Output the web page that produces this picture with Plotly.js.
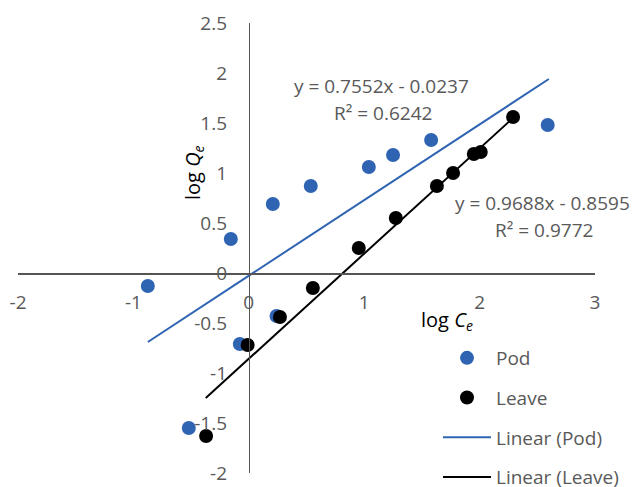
<!DOCTYPE html>
<html>
<head>
<meta charset="utf-8">
<script src="https://cdn.plot.ly/plotly-3.0.1.min.js"></script>
<style>html,body{margin:0;padding:0;background:#fff;}#chart{width:634px;height:487px;}</style>
</head>
<body>
<div id="chart"></div>
<script>
// Pod series (log Ce, log Qe)
var podX = [-0.875, -0.52, -0.156, -0.078, 0.208, 0.24, 0.537, 1.04, 1.25, 1.58, 2.59];
var podY = [-0.13, -1.55, 0.34, -0.71, 0.69, -0.43, 0.87, 1.06, 1.18, 1.33, 1.48];
// Leave series
var leaveX = [-0.37, -0.01, 0.27, 0.555, 0.953, 1.274, 1.63, 1.77, 1.95, 2.01, 2.29];
var leaveY = [-1.63, -0.72, -0.44, -0.15, 0.25, 0.55, 0.87, 1.0, 1.19, 1.21, 1.56];
// Trend line endpoints as drawn
var podTrendX = [-0.875, 2.6];
var podTrendY = [-0.69, 1.94];
var leaveTrendX = [-0.373, 2.28];
var leaveTrendY = [-1.25, 1.54];
// Tick labels
var xTickVals = [-2, -1, 0, 1, 2, 3];
var xTickText = ['-2', '-1', '0', '1', '2', '3'];
var yTickVals = [-2, -1.5, -1, -0.5, 0, 0.5, 1, 1.5, 2, 2.5];
var yTickText = ['-2', '-1.5', '-1', '-0.5', '0', '0.5', '1', '1.5', '2', '2.5'];
// Equation texts
var podEq = ['y = 0.7552x - 0.0237', 'R² = 0.6242'];
var leaveEq = ['y = 0.9688x - 0.8595', 'R² = 0.9772'];

var BLUE = '#2F64B3';
var GREY = '#595959';
var FONT = 'Open Sans';

var traces = [
  {x: podX, y: podY, type: 'scatter', mode: 'markers', name: 'Pod', legendgroup: 'a',
   marker: {color: BLUE, size: 14}},
  {x: leaveX, y: leaveY, type: 'scatter', mode: 'markers', name: 'Leave', legendgroup: 'b',
   marker: {color: '#000000', size: 14}},
  {x: podTrendX, y: podTrendY, type: 'scatter', mode: 'lines', name: 'Linear (Pod)', legendgroup: 'c',
   line: {color: BLUE, width: 2}},
  {x: leaveTrendX, y: leaveTrendY, type: 'scatter', mode: 'lines', name: 'Linear (Leave)', legendgroup: 'd',
   line: {color: '#000000', width: 2}}
];

var L = 18, T = 23, W = 634 - 18 - 39, H = 487 - 23 - 14;

var layout = {
  width: 634, height: 487,
  margin: {l: 18, r: 39, t: 23, b: 14, autoexpand: false},
  paper_bgcolor: '#ffffff', plot_bgcolor: '#ffffff',
  font: {family: FONT, size: 19, color: GREY},
  showlegend: true,
  legend: {x: (438 - L) / W, y: 1 - (339 - T) / H, xanchor: 'left', yanchor: 'top', bgcolor: 'rgba(0,0,0,0)',
           tracegroupgap: 12, itemwidth: 48, font: {family: FONT, size: 19, color: GREY}},
  xaxis: {range: [-2, 3], anchor: 'free', position: 2 / 4.5, showgrid: false, zeroline: false,
          showline: true, linecolor: '#555555', linewidth: 1.5,
          tickvals: xTickVals, ticktext: xTickText, ticks: 'outside', ticklen: 12,
          tickcolor: 'rgba(0,0,0,0)', tickfont: {family: FONT, size: 19, color: GREY}},
  yaxis: {range: [-2, 2.5], anchor: 'free', position: 0.4, showgrid: false, zeroline: false,
          showline: true, linecolor: '#555555', linewidth: 1.5,
          tickvals: yTickVals, ticktext: yTickText, ticks: 'outside', ticklen: 18,
          tickcolor: 'rgba(0,0,0,0)', tickfont: {family: FONT, size: 19, color: GREY}},
  annotations: [
    {x: 1.153, y: 1.87, xref: 'x', yref: 'y', text: podEq[0], showarrow: false,
     font: {family: FONT, size: 19, color: GREY}},
    {x: 1.16, y: 1.60, xref: 'x', yref: 'y', text: podEq[1], showarrow: false,
     font: {family: FONT, size: 19, color: GREY}},
    {x: 2.548, y: 0.70, xref: 'x', yref: 'y', text: leaveEq[0], showarrow: false,
     font: {family: FONT, size: 19, color: GREY}},
    {x: 2.556, y: 0.43, xref: 'x', yref: 'y', text: leaveEq[1], showarrow: false,
     font: {family: FONT, size: 19, color: GREY}},
    {x: (177 - L) / W, y: 1 - (143 - T) / H, xref: 'paper', yref: 'paper',
     text: 'log <i>Q</i><sub><i>e</i></sub>',
     showarrow: false, textangle: -90, font: {family: FONT, size: 20, color: '#000000'}},
    {x: (475 - L) / W, y: 1 - (320 - T) / H, xref: 'paper', yref: 'paper',
     text: 'log <i>C</i><sub><i>e</i></sub>',
     showarrow: false, font: {family: FONT, size: 20, color: '#000000'}}
  ]
};

Plotly.newPlot('chart', traces, layout, {displayModeBar: false, staticPlot: true});
</script>
</body>
</html>
